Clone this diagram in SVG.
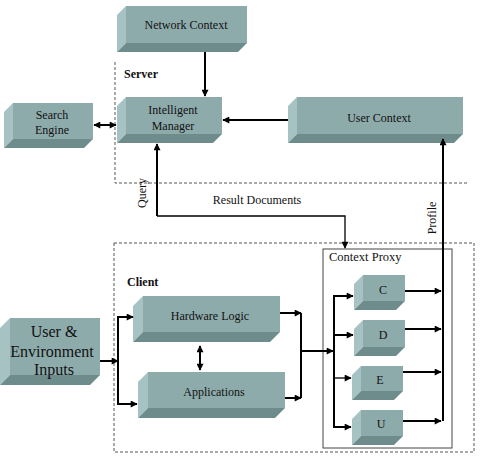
<svg xmlns="http://www.w3.org/2000/svg" width="492" height="463" viewBox="0 0 492 463" font-family="'Liberation Serif','DejaVu Serif',serif">
<defs>
<marker id="ah" viewBox="0 0 10 10" refX="9" refY="5" markerWidth="8" markerHeight="7" markerUnits="userSpaceOnUse" orient="auto-start-reverse">
<path d="M0,0 L10,5 L0,10 z" fill="#000"/>
</marker>
</defs>
<style>
.fr{fill:#8eabab}
.lf{fill:#a6c2c2}
.bt{fill:#6e8c8c}
text{font-family:'Liberation Serif','Times New Roman','DejaVu Serif',serif;fill:#111;font-size:12px}
.c{text-anchor:middle}
.b{font-weight:bold}
.big{font-size:16px}
.ln{fill:none;stroke:#000;stroke-width:2}
.th{fill:none;stroke:#000;stroke-width:1.3}
.dash{fill:none;stroke:#555;stroke-width:1;stroke-dasharray:3,2}
</style>
<rect width="492" height="463" fill="#fff"/>
<g id="regions">
<path class="dash" d="M115,62 V183 H468"/>
<rect class="dash" x="114" y="243" width="360" height="209"/>
<text class="b" x="124" y="78">Server</text>
<text class="b" x="127" y="286">Client</text>
</g>
<g id="context-proxy">
<rect x="323" y="249" width="129" height="199" fill="none" stroke="#444" stroke-width="1"/>
<text x="329" y="261" style="font-size:12.5px">Context Proxy</text>
</g>
<g id="network-context">
<polygon class="lf" points="117,15 126,6 126,43 117,52"/>
<rect class="fr" x="126" y="6" width="121" height="37"/>
<polygon class="bt" points="117,52 126,43 247,43 238,52"/>
<text class="c" x="186" y="29">Network Context</text>
</g>
<g id="search-engine">
<polygon class="lf" points="4,112 13,103 13,139 4,148"/>
<rect class="fr" x="13" y="103" width="80" height="36"/>
<polygon class="bt" points="4,148 13,139 93,139 84,148"/>
<text class="c" x="52" y="119">Search</text>
<text class="c" x="52" y="134">Engine</text>
</g>
<g id="intelligent-manager">
<polygon class="lf" points="117,106 126,97 126,134 117,143"/>
<rect class="fr" x="126" y="97" width="96" height="37"/>
<polygon class="bt" points="117,143 126,134 222,134 213,143"/>
<text class="c" x="173" y="114">Intelligent</text>
<text class="c" x="173" y="130">Manager</text>
</g>
<g id="user-context">
<polygon class="lf" points="288,106 297,97 297,134 288,143"/>
<rect class="fr" x="297" y="97" width="166" height="37"/>
<polygon class="bt" points="288,143 297,134 463,134 454,143"/>
<text class="c" x="379" y="122">User Context</text>
</g>
<g id="user-env-inputs">
<polygon class="lf" points="0,328 10,318 10,375 0,385"/>
<rect class="fr" x="10" y="318" width="90" height="57"/>
<polygon class="bt" points="0,385 10,375 100,375 90,385"/>
<text class="c big" x="54" y="337">User &amp;</text>
<text class="c big" x="52" y="357">Environment</text>
<text class="c big" x="54" y="375">Inputs</text>
</g>
<g id="hardware-logic">
<polygon class="lf" points="133,306 143,296 143,332 133,342"/>
<rect class="fr" x="143" y="296" width="137" height="36"/>
<polygon class="bt" points="133,342 143,332 280,332 270,342"/>
<text class="c" x="210" y="320">Hardware Logic</text>
</g>
<g id="applications">
<polygon class="lf" points="138,382 148,372 148,408 138,418"/>
<rect class="fr" x="148" y="372" width="137" height="36"/>
<polygon class="bt" points="138,418 148,408 285,408 275,418"/>
<text class="c" x="214" y="396">Applications</text>
</g>
<g id="C">
<polygon class="lf" points="354,284 363,275 363,301 354,310"/>
<rect class="fr" x="363" y="275" width="42" height="26"/>
<polygon class="bt" points="354,310 363,301 405,301 396,310"/>
<text class="c" x="383" y="294">C</text>
</g>
<g id="D">
<polygon class="lf" points="354,329 363,320 363,347 354,356"/>
<rect class="fr" x="363" y="320" width="42" height="27"/>
<polygon class="bt" points="354,356 363,347 405,347 396,356"/>
<text class="c" x="383" y="339">D</text>
</g>
<g id="E">
<polygon class="lf" points="352,375 361,366 361,391 352,400"/>
<rect class="fr" x="361" y="366" width="42" height="25"/>
<polygon class="bt" points="352,400 361,391 403,391 394,400"/>
<text class="c" x="380" y="384">E</text>
</g>
<g id="U">
<polygon class="lf" points="352,419 361,410 361,436 352,445"/>
<rect class="fr" x="361" y="410" width="42" height="26"/>
<polygon class="bt" points="352,445 361,436 403,436 394,445"/>
<text class="c" x="381" y="428">U</text>
</g>
<g id="connectors">
<path class="ln" d="M205,52 V96" marker-end="url(#ah)"/>
<path class="ln" d="M94,125 H116" marker-start="url(#ah)" marker-end="url(#ah)"/>
<path class="ln" d="M288,120 H223" marker-end="url(#ah)"/>
<path class="ln" d="M157,216 V144" marker-end="url(#ah)"/>
<path class="th" d="M157,216 H345 V248" marker-end="url(#ah)"/>
<text transform="translate(146,193) rotate(-90)" class="c">Query</text>
<text class="c" x="257" y="204">Result Documents</text>
<path class="ln" d="M443,421 V139" marker-end="url(#ah)"/>
<text transform="translate(436,218) rotate(-90)" class="c">Profile</text>
<path class="ln" d="M405,291 H441" marker-end="url(#ah)"/>
<path class="ln" d="M405,329 H441" marker-end="url(#ah)"/>
<path class="ln" d="M403,372 H441" marker-end="url(#ah)"/>
<path class="ln" d="M403,421 H441" marker-end="url(#ah)"/>
<path class="ln" d="M200,346 V370" marker-start="url(#ah)" marker-end="url(#ah)"/>
<path class="ln" d="M100,361 H118" marker-end="url(#ah)"/>
<path class="ln" d="M133,317 H118 V404 H137" marker-start="url(#ah)" marker-end="url(#ah)"/>
<path class="ln" d="M280,313 H301" marker-end="url(#ah)"/>
<path class="ln" d="M285,398 H301" marker-end="url(#ah)"/>
<path class="ln" d="M301,313 V398"/>
<path class="ln" d="M301,351 H333" marker-end="url(#ah)"/>
<path class="ln" d="M353,296 H334 V427 H351" marker-start="url(#ah)" marker-end="url(#ah)"/>
<path class="ln" d="M334,335 H353" marker-end="url(#ah)"/>
<path class="th" d="M334,378 H351" marker-end="url(#ah)"/>
</g>
</svg>
